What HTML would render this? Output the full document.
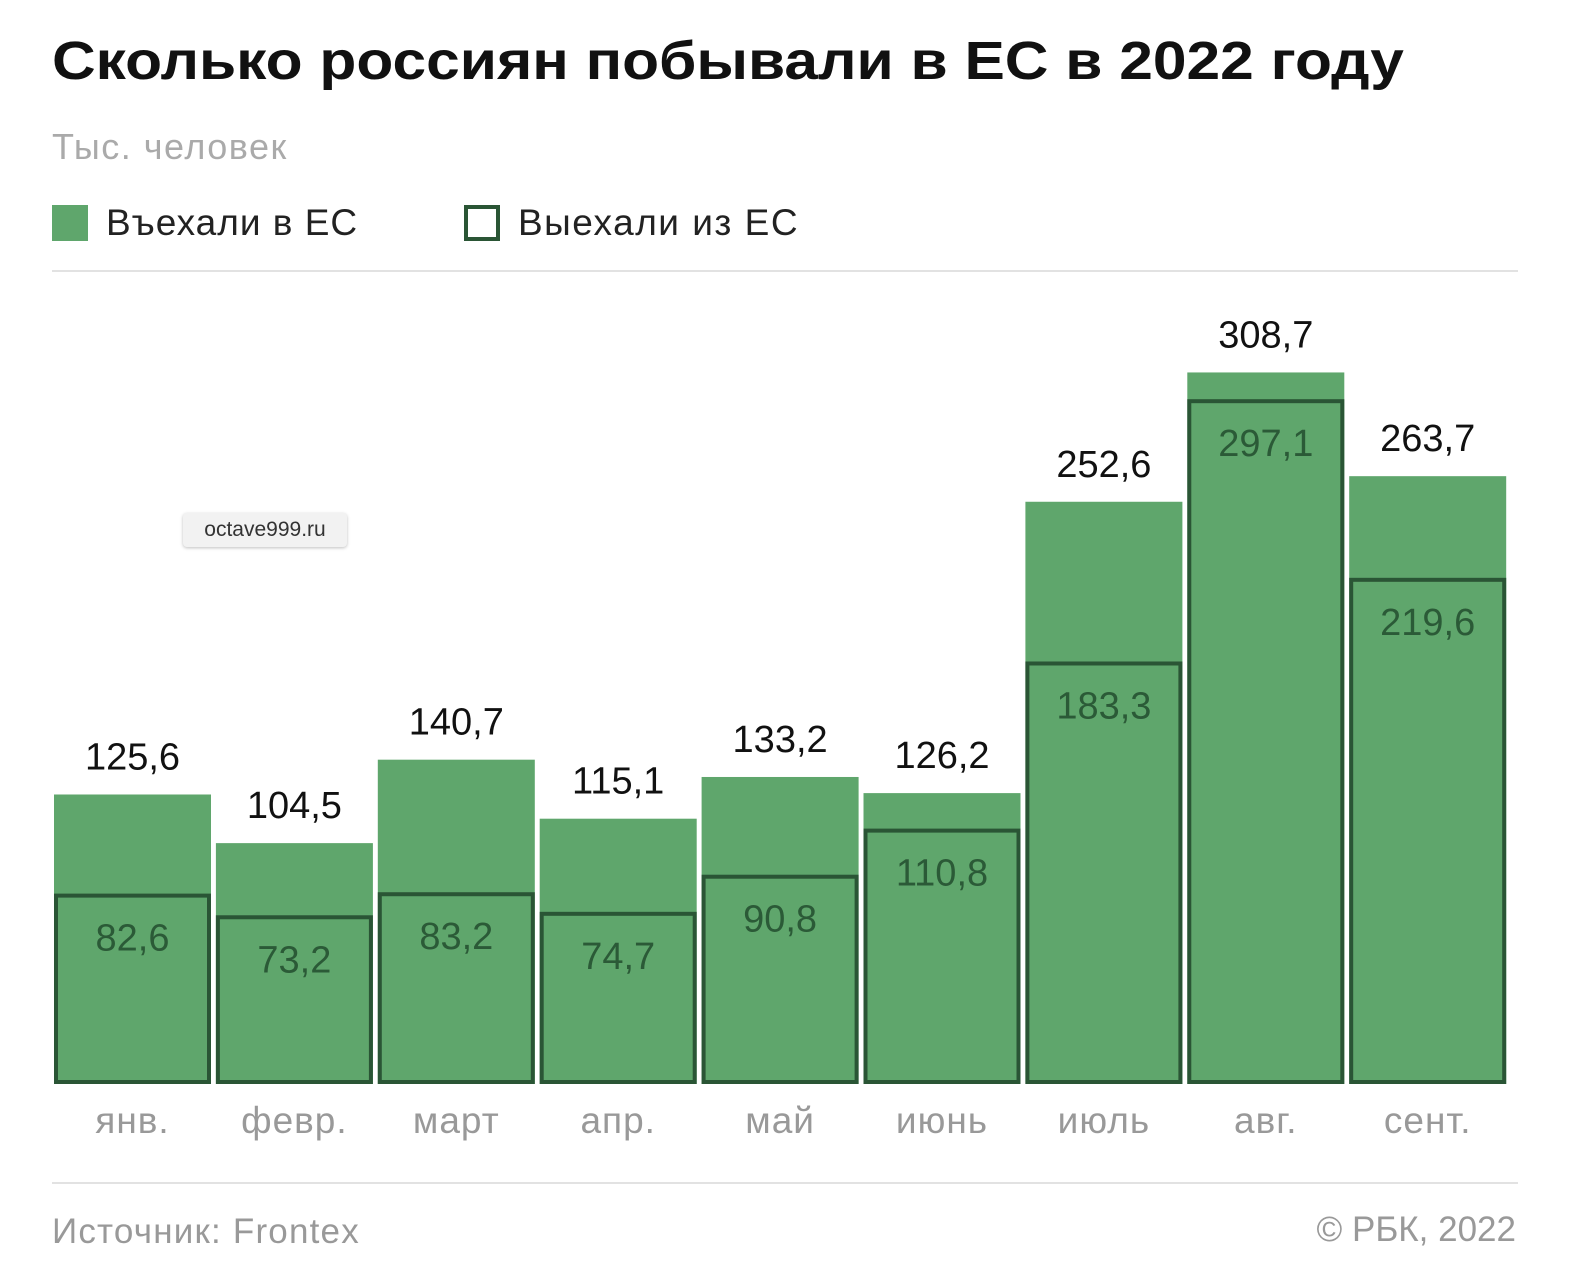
<!DOCTYPE html>
<html><head><meta charset="utf-8"><style>
body{margin:0;width:1574px;height:1270px;background:#fff;font-family:"Liberation Sans","Noto Sans CJK SC",sans-serif;position:relative;overflow:hidden}
.abs{position:absolute;white-space:nowrap}
</style></head><body>
<div class="abs" style="left:52px;top:30px;font-size:54px;font-weight:bold;color:#111;transform-origin:0 0;transform:scaleX(1.12)">Сколько россиян побывали в ЕС в 2022 году</div>
<div class="abs" style="left:52px;top:126px;font-size:36px;color:#aaa;letter-spacing:1.5px">Тыс. человек</div>
<div class="abs" style="left:52px;top:202px;font-size:37px;color:#222;line-height:42px;letter-spacing:1px"><span style="display:inline-block;width:36px;height:36px;background:#5fa66c;vertical-align:-6px;margin-right:18px"></span>Въехали в ЕС</div>
<div class="abs" style="left:464px;top:202px;font-size:37px;color:#222;line-height:42px;letter-spacing:1.5px"><span style="display:inline-block;width:28px;height:28px;border:4px solid #2a5535;vertical-align:-6px;margin-right:18px"></span>Выехали из ЕС</div>
<div class="abs" style="left:52px;top:270px;width:1466px;height:2px;background:#e2e2e2"></div>
<div class="abs" style="left:52px;top:1182px;width:1466px;height:2px;background:#e2e2e2"></div>
<div class="abs" style="left:52px;top:1212px;font-size:35px;color:#999;letter-spacing:1.2px">Источник: Frontex</div>
<div class="abs" style="right:58px;top:1210px;font-size:35px;color:#999">© РБК, 2022</div>
<svg id="chart" width="1574" height="1270" style="position:absolute;left:0;top:0"></svg>
<div class="abs" style="left:183px;top:513px;width:164px;height:34px;background:#f2f2f2;border-radius:4px;box-shadow:0 1px 3px rgba(0,0,0,.25);font-size:21px;color:#333;text-align:center;line-height:34px">octave999.ru</div>
<script>
const categories=["янв.","февр.","март","апр.","май","июнь","июль","авг.","сент."];
const entered=[125.6,104.5,140.7,115.1,133.2,126.2,252.6,308.7,263.7];
const exited=[82.6,73.2,83.2,74.7,90.8,110.8,183.3,297.1,219.6];
const NS="http://www.w3.org/2000/svg";
const svg=document.getElementById('chart');
const base=1084,k=2.305,x0=54,pitch=161.9,bw=157;
const y=v=>base-v*k;
const xs=i=>x0+i*pitch;
const fmt=v=>v.toFixed(1).replace('.',',');
function mk(t,a){const e=document.createElementNS(NS,t);for(const n in a)e.setAttribute(n,a[n]);svg.appendChild(e);return e;}
categories.forEach((c,i)=>{
  const x=xs(i);
  const b=mk('rect',{x:x,y:y(entered[i]),width:bw,height:entered[i]*k,fill:'#5fa66c'});
  
  
  const o=mk('rect',{x:x+2,y:y(exited[i])+2,width:bw-4,height:exited[i]*k-4,fill:'none',stroke:'#2a5535','stroke-width':4});
  
  
  const t1=mk('text',{x:x+bw/2,y:y(entered[i])-25,'text-anchor':'middle','font-size':38,fill:'#111'});
  t1.textContent=fmt(entered[i]);
  
  
  const t2=mk('text',{x:x+bw/2,y:y(exited[i])+57,'text-anchor':'middle','font-size':38,fill:'#2b5a37'});
  t2.textContent=fmt(exited[i]);
  
  
  const t3=mk('text',{x:x+bw/2,y:1133,'text-anchor':'middle','font-size':37,fill:'#999','letter-spacing':1});
  t3.textContent=c;
  
  
});
</script>
</body></html>
